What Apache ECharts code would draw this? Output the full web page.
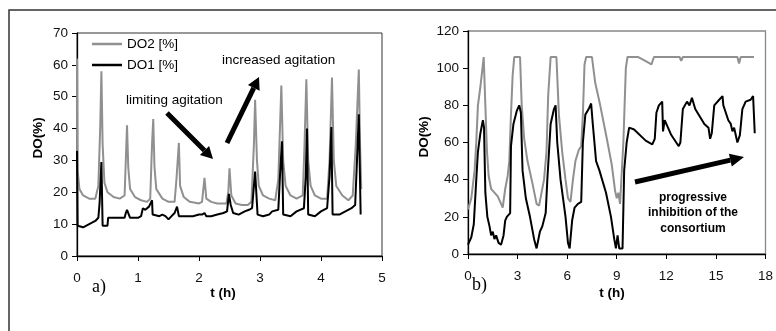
<!DOCTYPE html>
<html>
<head>
<meta charset="utf-8">
<script src="https://cdn.jsdelivr.net/npm/echarts@6/dist/echarts.min.js"></script>
<style>html,body{margin:0;padding:0;background:#fff;}#c{width:776px;height:331px;}</style>
</head>
<body>
<div id="c"></div>
<script>
// ---- Panel a) data: [t (h), DO (%)] ----
var do2A = [[0,62],[0.01,27],[0.04,21],[0.1,19],[0.2,18],[0.3,18],[0.35,22],[0.38,40],[0.40,58],[0.42,35],[0.45,23],[0.5,20],[0.6,18.5],[0.7,18],[0.78,19],[0.8,30],[0.82,41],[0.84,28],[0.87,21],[0.95,18.5],[1.05,17.5],[1.15,17],[1.2,18],[1.23,35],[1.25,43],[1.27,28],[1.3,21],[1.4,18],[1.5,17],[1.6,17],[1.63,24],[1.67,35.5],[1.69,22],[1.75,18.5],[1.85,17],[2.0,16.5],[2.05,17],[2.09,24.5],[2.12,18],[2.2,17],[2.3,16.5],[2.45,16.5],[2.48,20],[2.5,27.5],[2.53,19],[2.6,16.5],[2.7,16],[2.8,16],[2.86,17],[2.9,35],[2.92,49],[2.95,30],[2.98,22],[3.05,19],[3.15,18],[3.25,17.5],[3.3,24],[3.35,53.5],[3.38,30],[3.42,22],[3.5,19],[3.6,18],[3.7,19],[3.73,35],[3.76,55.5],[3.79,30],[3.83,22],[3.9,19],[4.0,18],[4.1,18],[4.14,30],[4.18,56],[4.21,30],[4.25,22],[4.35,19],[4.45,17.5],[4.52,19],[4.57,35],[4.62,58.5],[4.64,35],[4.66,21]];
var do1A = [[0,33],[0.01,9.5],[0.03,9],[0.1,9],[0.2,10],[0.3,11],[0.35,12],[0.37,16.5],[0.39,17],[0.40,29.5],[0.42,9.5],[0.43,9.5],[0.45,9.5],[0.5,9.5],[0.51,12],[0.52,12],[0.6,12],[0.7,12],[0.78,12],[0.8,13.5],[0.82,14.5],[0.85,14.5],[0.87,12],[0.9,11.5],[1.0,12],[1.05,12.5],[1.08,15],[1.12,14.5],[1.15,14],[1.18,15.5],[1.2,16],[1.23,17.5],[1.24,13],[1.27,13],[1.35,12.5],[1.4,13],[1.45,12.5],[1.5,11.5],[1.55,12.5],[1.6,13.5],[1.64,15.5],[1.67,12.5],[1.7,12.5],[1.8,12.5],[1.9,12.5],[2.0,13],[2.05,13],[2.09,13.5],[2.12,12.5],[2.2,12.5],[2.3,13],[2.4,13.5],[2.46,14],[2.49,19.5],[2.52,16],[2.56,13.5],[2.65,13],[2.75,14],[2.82,14.5],[2.87,15],[2.9,22],[2.92,26.5],[2.94,26.5],[2.96,13],[3.05,12.5],[3.15,13],[3.2,14],[3.3,14.5],[3.33,26],[3.36,36],[3.38,13],[3.4,13],[3.5,12.5],[3.6,14],[3.72,15],[3.75,25],[3.77,40],[3.79,13],[3.81,13],[3.9,12.5],[4.0,14],[4.1,15],[4.14,25],[4.17,40.5],[4.19,13],[4.21,13],[4.3,13],[4.4,14],[4.5,15],[4.56,16],[4.59,30],[4.62,44.5],[4.64,44],[4.65,13]];

// ---- Panel b) data: [t (h), DO (%)] ----
var do2B = [[0,24],[0.2,30],[0.4,45],[0.5,60],[0.6,80],[0.75,90],[0.95,106],[1.05,80],[1.15,55],[1.25,42],[1.4,35],[1.6,33],[1.8,31],[1.95,28],[2.1,25],[2.25,35],[2.4,42],[2.5,50],[2.6,75],[2.7,96],[2.8,106],[3.15,106],[3.25,80],[3.4,62],[3.6,50],[3.9,38],[4.15,27],[4.3,26],[4.45,33],[4.6,40],[4.75,55],[4.85,85],[5.0,106],[5.35,106],[5.5,75],[5.7,55],[5.9,40],[6.05,30],[6.2,28],[6.35,40],[6.5,50],[6.7,56],[6.85,58],[6.95,75],[7.05,102],[7.15,106],[7.5,106],[7.7,92],[8.0,80],[8.4,62],[8.7,48],[8.9,34],[9.0,30],[9.1,33],[9.2,27],[9.3,28],[9.4,60],[9.55,100],[9.65,106],[10.3,106],[10.7,104],[11.1,102],[11.2,102],[11.25,106],[12.8,106],[12.9,104],[13.0,106],[16.3,106],[16.4,102.5],[16.5,106],[17.3,106]];
var do1B = [[0,5],[0.2,9],[0.35,16],[0.5,40],[0.6,55],[0.75,65],[0.9,72],[0.97,68],[1.05,33],[1.17,20],[1.3,15],[1.4,10],[1.5,12],[1.6,8],[1.7,10],[1.85,6],[2.0,5],[2.15,10],[2.25,18],[2.35,20],[2.55,22],[2.6,58],[2.75,70],[2.95,77],[3.1,80],[3.2,76],[3.3,45],[3.5,30],[3.75,20],[4.0,8],[4.15,3],[4.25,3],[4.35,12],[4.5,15],[4.7,22],[4.8,40],[5.0,70],[5.2,78],[5.3,80],[5.4,60],[5.6,40],[5.9,20],[6.05,6],[6.15,3],[6.3,18],[6.45,25],[6.65,27],[6.85,28],[6.95,60],[7.1,75],[7.3,78],[7.45,81],[7.55,70],[7.75,50],[7.95,45],[8.35,33],[8.65,20],[8.85,8],[8.95,3],[9.05,10],[9.15,3],[9.35,3],[9.45,45],[9.6,60],[9.75,68],[10.05,67],[10.75,61],[11.15,59],[11.3,62],[11.4,76],[11.55,80],[11.75,82],[11.8,66],[11.9,72],[12.3,64],[12.75,58],[12.85,60],[13.0,78],[13.25,82],[13.4,80],[13.55,84],[13.75,78],[14.3,70],[14.55,68],[14.65,62],[14.75,65],[14.9,80],[15.2,83],[15.4,85],[15.45,80],[15.6,76],[15.75,72],[15.9,70],[16.0,66],[16.1,68],[16.2,64],[16.3,60],[16.45,64],[16.6,78],[16.8,82],[17.1,83],[17.25,85],[17.35,65]];

var seriesNames = ['DO2 [%]', 'DO1 [%]'];
var xNameText = 't (h)';
var yNameText = 'DO(%)';

var FONT = 'Liberation Sans, Arial, sans-serif';
var chart = echarts.init(document.getElementById('c'));

function arrow(x1, y1, x2, y2, w, hl, hw) {
  var dx = x2 - x1, dy = y2 - y1, L = Math.sqrt(dx*dx + dy*dy);
  var ux = dx / L, uy = dy / L, px = -uy, py = ux;
  var bx = x2 - ux*hl, by = y2 - uy*hl;
  return [
    {type:'line', shape:{x1:x1, y1:y1, x2:bx, y2:by}, style:{stroke:'#000', lineWidth:w}},
    {type:'polygon', shape:{points:[[x2,y2],[bx+px*hw,by+py*hw],[bx-px*hw,by-py*hw]]}, style:{fill:'#000'}}
  ];
}

var LBL = {color:'#111', fontSize:13.5, fontFamily:FONT};
function axisCommon(extra, margin) {
  var o = {
    type: 'value',
    axisLine: {show:true, onZero:false, lineStyle:{color:'#000', width:1.3}},
    axisTick: {show:true, length:5, lineStyle:{color:'#000'}},
    splitLine: {show:false},
    axisLabel: {color:LBL.color, fontSize:LBL.fontSize, fontFamily:LBL.fontFamily, margin:margin}
  };
  for (var k in extra) o[k] = extra[k];
  return o;
}

var graphics = [
  {type:'polyline', shape:{points:[[9,331],[9,10],[776,10]]}, style:{stroke:'#333', lineWidth:1.5, fill:null}},
  {type:'text', x:38, y:138, rotation:Math.PI/2, style:{text:yNameText, font:'bold 13.5px ' + FONT, fill:'#000', align:'center', verticalAlign:'middle'}},
  {type:'text', x:424, y:137, rotation:Math.PI/2, style:{text:yNameText, font:'bold 13.5px ' + FONT, fill:'#000', align:'center', verticalAlign:'middle'}},
  {type:'text', x:223, y:293, style:{text:xNameText, font:'bold 13.5px ' + FONT, fill:'#000', align:'center', verticalAlign:'middle'}},
  {type:'text', x:612, y:293, style:{text:xNameText, font:'bold 13.5px ' + FONT, fill:'#000', align:'center', verticalAlign:'middle'}},
  {type:'text', x:92, y:287, style:{text:'a)', font:'18px Liberation Serif, Times New Roman, serif', fill:'#000', align:'left', verticalAlign:'middle'}},
  {type:'text', x:472, y:285, style:{text:'b)', font:'18px Liberation Serif, Times New Roman, serif', fill:'#000', align:'left', verticalAlign:'middle'}},
  {type:'text', x:222, y:60, style:{text:'increased agitation', font:'13.5px ' + FONT, fill:'#000', align:'left', verticalAlign:'middle'}},
  {type:'text', x:126, y:100, style:{text:'limiting agitation', font:'13.5px ' + FONT, fill:'#000', align:'left', verticalAlign:'middle'}},
  {type:'text', x:693, y:213, style:{text:'progressive\ninhibition of the\nconsortium', font:'bold 12px ' + FONT, lineHeight:15.5, fill:'#000', align:'center', verticalAlign:'middle'}}
];
graphics = graphics.concat(arrow(167,113,213,159,5,12,6.5));
graphics = graphics.concat(arrow(227,143,259,77,5,12,6.5));
graphics = graphics.concat(arrow(635,182,744,157,5,14,6.5));

var option = {
  animation: false,
  backgroundColor: '#fff',
  grid: [
    {left:77, top:33, width:305, height:223, show:true, borderColor:'#333', borderWidth:1, backgroundColor:'transparent'},
    {left:468, top:31, width:298, height:223, show:true, borderColor:'#888', borderWidth:1.3, backgroundColor:'transparent'}
  ],
  xAxis: [
    axisCommon({gridIndex:0, min:0, max:5, interval:1}, 15),
    axisCommon({gridIndex:1, min:0, max:18, interval:3}, 15)
  ],
  yAxis: [
    axisCommon({gridIndex:0, min:0, max:70, interval:10}, 9),
    axisCommon({gridIndex:1, min:0, max:120, interval:20}, 9)
  ],
  legend: {
    data: [
      {name:seriesNames[0], icon:'rect', itemStyle:{color:'#909090'}},
      {name:seriesNames[1], icon:'rect', itemStyle:{color:'#000'}}
    ],
    orient: 'vertical',
    left: 92, top: 36, padding: 0,
    itemWidth: 30, itemHeight: 2.5, itemGap: 5,
    textStyle: {color:'#000', fontSize:13.5, fontFamily:FONT, lineHeight:16},
    selectedMode: false
  },
  series: [
    {name:seriesNames[0], type:'line', xAxisIndex:0, yAxisIndex:0, data:do2A, symbol:'none', lineStyle:{color:'#909090', width:2}, itemStyle:{color:'#909090'}},
    {name:seriesNames[1], type:'line', xAxisIndex:0, yAxisIndex:0, data:do1A, symbol:'none', lineStyle:{color:'#000', width:2}, itemStyle:{color:'#000'}},
    {name:seriesNames[0], type:'line', xAxisIndex:1, yAxisIndex:1, data:do2B, symbol:'none', lineStyle:{color:'#909090', width:2}, itemStyle:{color:'#909090'}},
    {name:seriesNames[1], type:'line', xAxisIndex:1, yAxisIndex:1, data:do1B, symbol:'none', lineStyle:{color:'#000', width:2}, itemStyle:{color:'#000'}}
  ],
  graphic: graphics
};
chart.setOption(option);
</script>
</body>
</html>
